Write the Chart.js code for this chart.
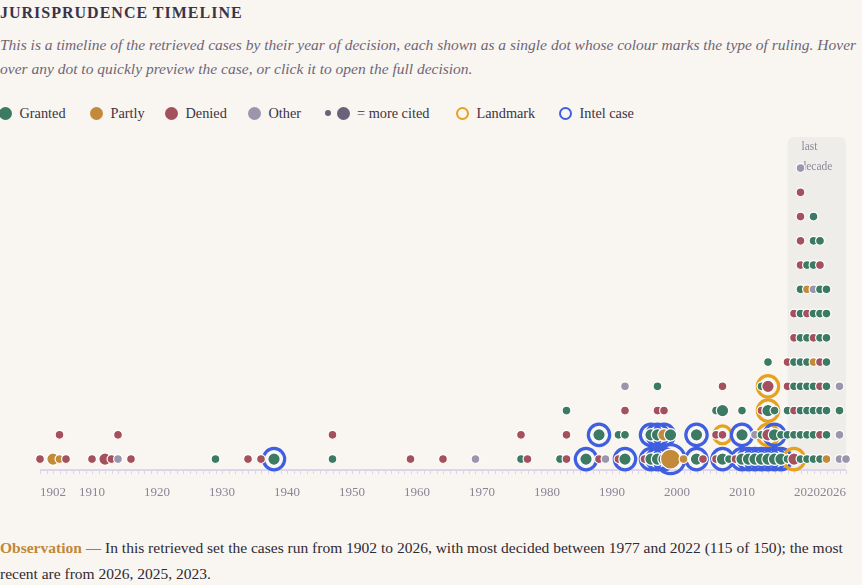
<!DOCTYPE html>
<html>
<head>
<meta charset="utf-8">
<script src="https://cdn.jsdelivr.net/npm/chart.js@4.4.1/dist/chart.umd.min.js"></script>
<style>
	body {
		margin: 0;
		width: 862px;
		height: 585px;
		overflow: hidden;
		position: relative;
		background: #f9f6f1;
		font-family: "Liberation Serif", serif;
		color: #2e2a33;
	}
	.title {
		position: absolute; left: 0; top: 3px;
		font-size: 16px; line-height: 20px; font-weight: bold;
		letter-spacing: 1px; color: #3b3346;
	}
	.desc {
		position: absolute; left: 0; top: 33px; width: 862px;
		font-size: 15.5px; line-height: 24px; font-style: italic; color: #6e6677;
	}
	.legend { position: absolute; left: 0; top: 103px; height: 20px; width: 862px; }
	.legend .item {
		position: absolute; top: 0; height: 20px;
		display: flex; align-items: center; font-size: 14.3px; color: #3b3346;
	}
	.sw { display: inline-block; width: 13px; height: 13px; border-radius: 50%; margin-right: 8px; box-sizing: border-box; }
	.ring { background: transparent; border: 2.5px solid; }
	.wrap { position: absolute; left: 0; top: 130px; width: 862px; height: 380px; }
	.obs {
		position: absolute; left: 0; top: 535px; width: 862px;
		font-size: 15.5px; line-height: 26px; color: #2e2a33;
	}
	.obs b { color: #c0883a; font-weight: bold; }
</style>
</head>
<body>
<div class="title">JURISPRUDENCE TIMELINE</div>
<div class="desc">This is a timeline of the retrieved cases by their year of decision, each shown as a single dot whose colour marks the type of ruling. Hover over any dot to quickly preview the case, or click it to open the full decision.</div>
<div class="legend">
	<div class="item" style="left:-1.5px"><span class="sw" style="background:#3d7a63"></span>Granted</div>
	<div class="item" style="left:89.5px"><span class="sw" style="background:#c38a3a"></span>Partly</div>
	<div class="item" style="left:164.5px"><span class="sw" style="background:#a5505d"></span>Denied</div>
	<div class="item" style="left:247.5px"><span class="sw" style="background:#9b96ab"></span>Other</div>
	<div class="item" style="left:325px">
		<span class="sw" style="width:6px;height:6px;background:#6a6278;margin-right:6px"></span>
		<span class="sw" style="background:#6a6278;margin-right:7px"></span>= more cited</div>
	<div class="item" style="left:455.5px"><span class="sw ring" style="border-color:#e6a21f"></span>Landmark</div>
	<div class="item" style="left:558.5px"><span class="sw ring" style="border-color:#3f5fe0"></span>Intel case</div>
</div>
<div class="wrap"><canvas id="timeline"></canvas></div>
<div class="obs"><b>Observation</b> — In this retrieved set the cases run from 1902 to 2026, with most decided between 1977 and 2022 (115 of 150); the most recent are from 2026, 2025, 2023.</div>

<script>
// one entry per year with decisions; the strings hold one letter per case, bottom of the stack first
const yearList = [
	1902, 1904, 1905, 1906, 1910, 1912, 1913, 1914, 1916, 1929, 1934, 1936, 1938, 1947, 1959, 1964, 1969,
	1976, 1977, 1982, 1983, 1986, 1988, 1989, 1991, 1992, 1995, 1996, 1997, 1998, 1999, 2001, 2003, 2004,
	2006, 2007, 2008, 2009, 2010, 2011, 2012, 2013, 2014, 2015, 2016,
	2017, 2018, 2019, 2020, 2021, 2022, 2023, 2025, 2026
];
// G = granted, P = partly, D = denied, O = other
const rulingByYear = [
	'D', 'P', 'PD', 'D', 'D', 'D', 'D', 'OD', 'D', 'G', 'D', 'D', 'G', 'GD', 'D', 'D', 'O',
	'GD', 'D', 'G', 'DDG', 'G', 'DG', 'O', 'DG', 'GGDO', 'D', 'GG', 'GGDG', 'GPD', 'PG', 'P', 'GG', 'D',
	'DDG', 'GDGD', 'G', 'D', 'GGG', 'G', 'GO', 'GGDG', 'GDGDG', 'GGG', 'GG',
	'GGGDD', 'DGDGGDD', 'GGGGGGGGDDDDO', 'GGGGGGDPG', 'GGGGPDGOGGG', 'GDGDDGGGDG', 'PGGGGGGG', 'OOGO', 'O'
];
// 0 = normal, 1 = more cited, 2 = most cited
const citedByYear = [
	'0', '1', '00', '0', '0', '1', '0', '00', '0', '0', '0', '0', '1', '00', '0', '0', '0',
	'00', '0', '0', '000', '1', '01', '0', '00', '1000', '0', '11', '1100', '110', '21', '0', '11', '0',
	'000', '1010', '0', '0', '110', '1', '10', '1000', '11110', '110', '10',
	'00000', '1000000', '0000000000000', '000000000', '00000000000', '0000000000', '00000000', '0000', '0'
];
// L = landmark, I = intel case, - = none
const markByYear = [
	'-', '-', '--', '-', '-', '-', '-', '--', '-', '-', '-', '-', 'I', '--', '-', '-', '-',
	'--', '-', '-', '---', 'I', '-I', '-', '--', 'I---', '-', 'II', 'II--', 'II-', 'I-', '-', 'II', '-',
	'---', 'IL--', '-', '-', 'II-', 'I', 'I-', 'I---', 'ILLL-', 'II-', 'I-',
	'-----', 'L------', '-------------', '---------', '-----------', '----------', '--------', '----', '-'
];
const tickYears = [1902, 1910, 1920, 1930, 1940, 1950, 1960, 1970, 1980, 1990, 2000, 2010, 2020, 2026];
const firstYear = 1902;
const lastYear = 2026;
const recentFrom = 2017;

const rulingColors = { G: '#3d7a63', P: '#c38a3a', D: '#a5505d', O: '#9b96ab' };
const markColors = { L: '#e6a21f', I: '#3f5fe0' };
const dotSizes = [4.4, 6.2, 10];

const cases = [];
yearList.forEach((yr, i) => {
	for (let k = 0; k < rulingByYear[i].length; k++) {
		cases.push({
			x: yr,
			y: k,
			ruling: rulingByYear[i][k],
			cited: +citedByYear[i][k],
			mark: markByYear[i][k]
		});
	}
});

const dotRadius = (c) => c.raw ? dotSizes[c.raw.cited] : 4;

const timelineAxis = {
	id: 'timelineAxis',
	beforeDatasetsDraw(chart) {
		const { ctx, chartArea, scales: { x } } = chart;
		const base = chartArea.bottom;

		// shaded band for the last decade
		const bx0 = x.getPixelForValue(recentFrom);
		const bx1 = x.getPixelForValue(lastYear);
		const top = chartArea.top + 2.5;
		ctx.save();
		ctx.fillStyle = '#efede9';
		ctx.beginPath();
		ctx.roundRect(bx0, top, bx1 - bx0, base - top, [6, 6, 0, 0]);
		ctx.fill();
		ctx.fillStyle = '#8f889b';
		ctx.font = '11.5px "Liberation Serif"';
		ctx.textBaseline = 'middle';
		ctx.textAlign = 'left';
		ctx.fillText('last', bx0 + 14, top + 10);
		ctx.fillText('decade', bx0 + 13, top + 30);

		// axis line with a small tick per year
		ctx.strokeStyle = '#dcd5ec';
		ctx.lineWidth = 2;
		ctx.beginPath();
		ctx.moveTo(x.getPixelForValue(firstYear), base);
		ctx.lineTo(x.getPixelForValue(lastYear), base);
		ctx.stroke();
		ctx.lineWidth = 1;
		ctx.beginPath();
		for (let yr = firstYear; yr <= lastYear; yr++) {
			const px = Math.round(x.getPixelForValue(yr)) + 0.5;
			ctx.moveTo(px, base);
			ctx.lineTo(px, base + 4);
		}
		ctx.stroke();

		// year labels
		ctx.fillStyle = '#8a8497';
		ctx.font = '13px "Liberation Serif"';
		tickYears.forEach((yr, i) => {
			ctx.textAlign = i === 0 ? 'left' : i === tickYears.length - 1 ? 'right' : 'center';
			ctx.fillText(String(yr), x.getPixelForValue(yr), base + 22.5);
		});
		ctx.restore();
	}
};

const config = {
	type: 'scatter',
	data: {
		datasets: [
			{
				label: 'cases',
				data: cases,
				order: 1,
				clip: false,
				pointRadius: dotRadius,
				pointHoverRadius: dotRadius,
				pointBackgroundColor: (c) => c.raw ? rulingColors[c.raw.ruling] : '#999',
				pointBorderColor: '#ffffff',
				pointBorderWidth: 1.2,
				pointHoverBorderWidth: 1.2,
			},
			{
				label: 'marks',
				data: cases.filter(c => c.mark !== '-'),
				order: 2,
				clip: false,
				pointRadius: (c) => dotRadius(c) + 4.5,
				pointHoverRadius: (c) => dotRadius(c) + 4.5,
				pointBackgroundColor: 'rgba(0,0,0,0)',
				pointBorderColor: (c) => c.raw ? markColors[c.raw.mark] : '#999',
				pointBorderWidth: 3.2,
				pointHoverBorderWidth: 3.2,
			}
		]
	},
	options: {
		responsive: false,
		animation: false,
		events: [],
		layout: {
			autoPadding: false,
			padding: { left: 40, right: 16, top: 4.5, bottom: 40 }
		},
		plugins: {
			legend: { display: false },
			tooltip: { enabled: false },
			title: { display: false }
		},
		scales: {
			x: { type: 'linear', display: false, min: firstYear, max: lastYear },
			y: { type: 'linear', display: false, min: -0.45, max: 13.385 }
		}
	},
	plugins: [timelineAxis],
};

const canvas = document.getElementById('timeline');
canvas.width = 862;
canvas.height = 380;
canvas.style.width = '862px';
canvas.style.height = '380px';
new Chart(canvas.getContext('2d'), config);
</script>
</body>
</html>
